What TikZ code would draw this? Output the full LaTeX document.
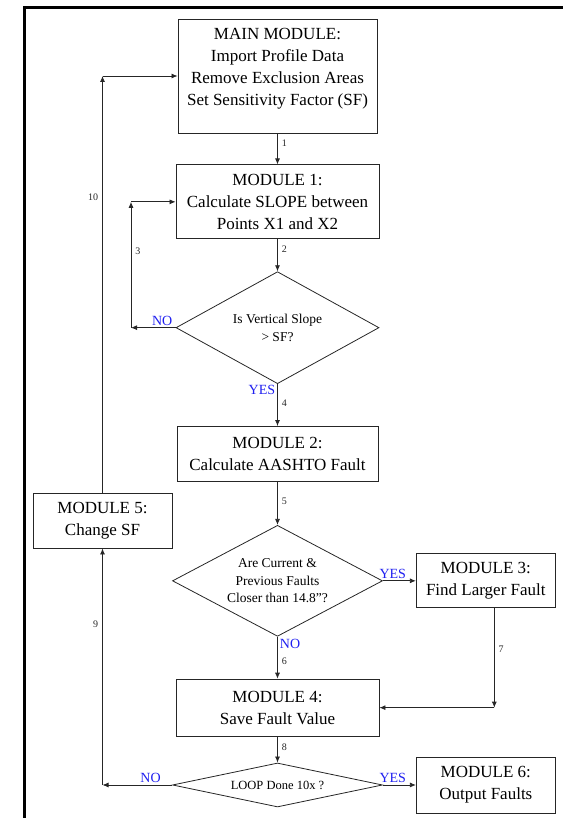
\documentclass[tikz,border=0pt]{standalone}
\usepackage{fontspec}
\setmainfont{Liberation Serif}
\usepackage{xcolor}
\usepackage{tikz}
\usetikzlibrary{arrows.meta,positioning,shapes.geometric}
\definecolor{FlowInk}{HTML}{262626}
\definecolor{FlowBlue}{HTML}{1F1FF0}
\tikzset{
  modbox/.style={draw=FlowInk,line width=0.85pt,align=center,inner sep=2pt,font=\fontsize{17}{22}\selectfont},
  testbox/.style={diamond,draw=FlowInk,line width=0.8pt,align=center,inner sep=0pt,font=\fontsize{13.5}{17.5}\selectfont},
  flowarrow/.style={-{Latex[length=6pt,width=5pt]},line width=0.8pt,draw=FlowInk},
  steptag/.style={font=\fontsize{10}{12}\selectfont,text=FlowInk,inner sep=4pt},
  answertag/.style={font=\fontsize{14}{16}\selectfont,text=FlowBlue,inner sep=2pt},
  framebar/.style={line width=3pt,draw=black}
}
\begin{document}
\begin{tikzpicture}[x=1pt,y=-1pt]
\useasboundingbox (0,0) rectangle (562,818);
\draw[framebar] (24,820) -- (24,8) -- (564,8);

% main column
\node[modbox,minimum width=199pt,minimum height=114pt] (main) at (277.5,76)
  {MAIN MODULE:\\Import Profile Data\\Remove Exclusion Areas\\Set Sensitivity Factor (SF)\\[-4pt]\mbox{}};
\node[modbox,below=31pt of main,minimum width=203pt,minimum height=74pt] (m1)
  {MODULE 1:\\Calculate SLOPE between\\Points X1 and X2};
\node[testbox,below=32pt of m1,minimum width=203pt,minimum height=112pt,shape aspect=1.8] (d1)
  {Is Vertical Slope\\[1pt]{}> SF?};
\node[modbox,below=42pt of d1,minimum width=201pt,minimum height=55pt] (m2)
  {MODULE 2:\\Calculate AASHTO Fault};
\node[testbox,below=43pt of m2,minimum width=210pt,minimum height=111pt,shape aspect=1.9] (d2)
  {Are Current \&\\Previous Faults\\Closer than 14.8”?};
\node[modbox,below=42pt of d2,minimum width=203pt,minimum height=57pt] (m4)
  {MODULE 4:\\Save Fault Value};
\node[testbox,below=26pt of m4,minimum width=210pt,minimum height=44pt,shape aspect=4.8,font=\fontsize{12.5}{15}\selectfont] (d3)
  {LOOP Done 10x ?};

% side boxes
\node[modbox,right=33pt of d2,minimum width=139pt,minimum height=54pt] (m3)
  {MODULE 3:\\Find Larger Fault};
\node[modbox,right=33pt of d3,minimum width=139pt,minimum height=56pt] (m6)
  {MODULE 6:\\Output Faults};
\node[modbox,minimum width=139pt,minimum height=55pt] (m5) at (102.5,520.5)
  {MODULE 5:\\Change SF};

% corners of the loops
\coordinate (k3) at (131,0 |- d1.west);
\coordinate (k9) at (m5.south |- d3.west);
\coordinate (k7) at ([xshift=8.5pt]m3.south);

% straight flow
\draw[flowarrow] (main) -- node[steptag,right,pos=0.3]{1} (m1);
\draw[flowarrow] (m1) -- node[steptag,right,pos=0.3]{2} (d1);
\draw[flowarrow] (d1) -- node[answertag,left,pos=0.15]{YES}
  node[steptag,right,pos=0.45]{4} (m2);
\draw[flowarrow] (m2) -- node[steptag,right,pos=0.45]{5} (d2);
\draw[flowarrow] (d2) -- node[answertag,right,pos=0.17]{NO}
  node[steptag,right,pos=0.58]{6} (m4);
\draw[flowarrow] (m4) -- node[steptag,right,pos=0.4]{8} (d3);
\draw[flowarrow] (d2.east) -- node[answertag,above,pos=0.3]{YES} (m3.west);
\draw[flowarrow] (d3.east) -- node[answertag,above,pos=0.3]{YES} (m6.west);

% loop 3
\draw[flowarrow] (d1.west) -- node[answertag,above,pos=0.3]{NO} (k3);
\draw[flowarrow] (k3) -- node[steptag,right,pos=0.61]{3} (k3 |- m1.west);
\draw[flowarrow] (k3 |- m1.west) -- (m1.west);

% loop 7
\draw[flowarrow] (k7) -- node[steptag,right,pos=0.41]{7} (k7 |- m4.east);
\draw[flowarrow] (k7 |- m4.east) -- (m4.east);

% loops 9 and 10
\draw[flowarrow] (d3.west) -- node[answertag,above,pos=0.31]{NO} (k9);
\draw[flowarrow] (k9) -- node[steptag,left,pos=0.68]{9} (m5.south);
\draw[flowarrow] (m5.north) -- node[steptag,left,pos=0.71]{10} (m5.north |- main.west);
\draw[flowarrow] (m5.north |- main.west) -- (main.west);
\end{tikzpicture}
\end{document}
